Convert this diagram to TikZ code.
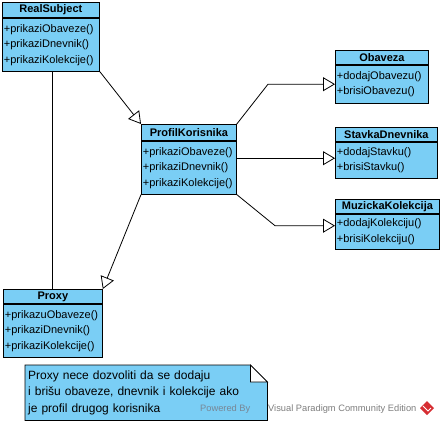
\documentclass[tikz,border=0pt]{standalone}
\usepackage{fontspec}
\setmainfont{Liberation Sans}
\usepackage{xcolor}
\usepackage{tikz}
\usetikzlibrary{positioning,arrows.meta,backgrounds}
\definecolor{umlblue}{RGB}{122,206,245}
\definecolor{vpgray}{RGB}{125,125,125}
\definecolor{vplight}{RGB}{120,135,150}
\definecolor{vpred}{RGB}{214,45,50}
\tikzset{
	classhead/.style={draw=black,fill=umlblue,line width=0.8pt,anchor=north west,inner sep=0pt,minimum width=#1,minimum height=15,font=\fontsize{11}{13}\selectfont\bfseries},
	classbody/.style={draw=black,fill=umlblue,line width=0.8pt,anchor=north west,inner xsep=1.5pt,inner ysep=0pt,text width=#1,align=left,font=\fontsize{11}{15.5}\selectfont},
	realize/.style={line width=0.8pt,-{Triangle[length=12pt,width=14pt,fill=white,line width=0.8pt]}},
	wmark/.style={inner sep=0pt,anchor=base west,font=\fontsize{9.3}{11}\selectfont}
}
\begin{document}
\begin{tikzpicture}[x=1pt,y=-1pt]
	\useasboundingbox (0,0) rectangle (443,426);
	\node[classhead=97] (realhead) at (2,2) {RealSubject};
	\node[classbody=94pt,minimum height=53] (realops) at (realhead.south west) {+prikaziObaveze()\\+prikaziDnevnik()\\+prikaziKolekcije()};
	\node[classhead=95,minimum height=16] (profilhead) at (141,124) {ProfilKorisnika};
	\node[classbody=92pt,minimum height=53] (profilops) at (profilhead.south west) {+prikaziObaveze()\\+prikaziDnevnik()\\+prikaziKolekcije()};
	\node[classhead=93,minimum height=14] (obavezahead) at (335,50) {Obaveza};
	\node[classbody=90pt,minimum height=38] (obavezaops) at (obavezahead.south west) {+dodajObavezu()\\+brisiObavezu()};
	\node[classhead=102,minimum height=14] (stavkahead) at (335,127) {StavkaDnevnika};
	\node[classbody=99pt,minimum height=36] (stavkaops) at (stavkahead.south west) {+dodajStavku()\\+brisiStavku()};
	\node[classhead=104,minimum height=14] (kolekcijahead) at (335,199) {MuzickaKolekcija};
	\node[classbody=101pt,minimum height=35] (kolekcijaops) at (kolekcijahead.south west) {+dodajKolekciju()\\+brisiKolekciju()};
	\node[classhead=99,minimum height=14] (proxyhead) at (3,289) {Proxy};
	\node[classbody=96pt,minimum height=53] (proxyops) at (proxyhead.south west) {+prikazuObaveze()\\+prikaziDnevnik()\\+prikaziKolekcije()};
	\draw [realize] (realops.south east) -- (profilhead.north west);
	\draw [line width=0.8pt] ([xshift=1.5pt]realops.south) -- ([xshift=1.5pt]realops.south |- proxyhead.north);
	\draw [realize] (profilops.south west) -- (proxyhead.north east);
	\draw [realize] (profilhead.north east) -- ([xshift=-67pt]obavezaops.west) -- (obavezaops.west);
	\draw [realize] ([yshift=2pt]profilops.east |- stavkaops.west) -- ([yshift=2pt]stavkaops.west);
	\draw [realize] (profilops.south east) -- ([xshift=-60pt,yshift=6pt]kolekcijaops.west) -- ([yshift=6pt]kolekcijaops.west);
	\node[anchor=north west,minimum width=242,minimum height=55,inner xsep=3pt,inner ysep=0pt,text width=236pt,align=left,font=\fontsize{12}{16.5}\selectfont] (note) at (25,365) {Proxy nece dozvoliti da se dodaju\\i brišu obaveze, dnevnik i kolekcije ako\\je profil drugog korisnika};
	\begin{scope}[on background layer]
		\filldraw [fill=umlblue,line width=0.8pt] (note.north west) -- ([xshift=-17pt]note.north east) -- ([yshift=-17pt]note.north east) -- (note.south east) -- (note.south west) -- cycle;
		\filldraw [fill=white,line width=0.8pt] ([xshift=-17pt]note.north east) -- ([xshift=-17pt,yshift=-17pt]note.north east) -- ([yshift=-17pt]note.north east) -- cycle;
	\end{scope}
	\node[wmark,text=vplight] (powered) at (200,411.5) {Powered By};
	\node[wmark,text=vpgray] (vpce) at (268,411.5) {Visual Paradigm Community Edition};
	\fill[vpred] (427,401) -- (434,408) -- (427,415) -- (420,408) -- cycle;
	\draw[white,line width=1pt] (423,406) -- (428,411) -- (431,408);
\end{tikzpicture}
\end{document}
